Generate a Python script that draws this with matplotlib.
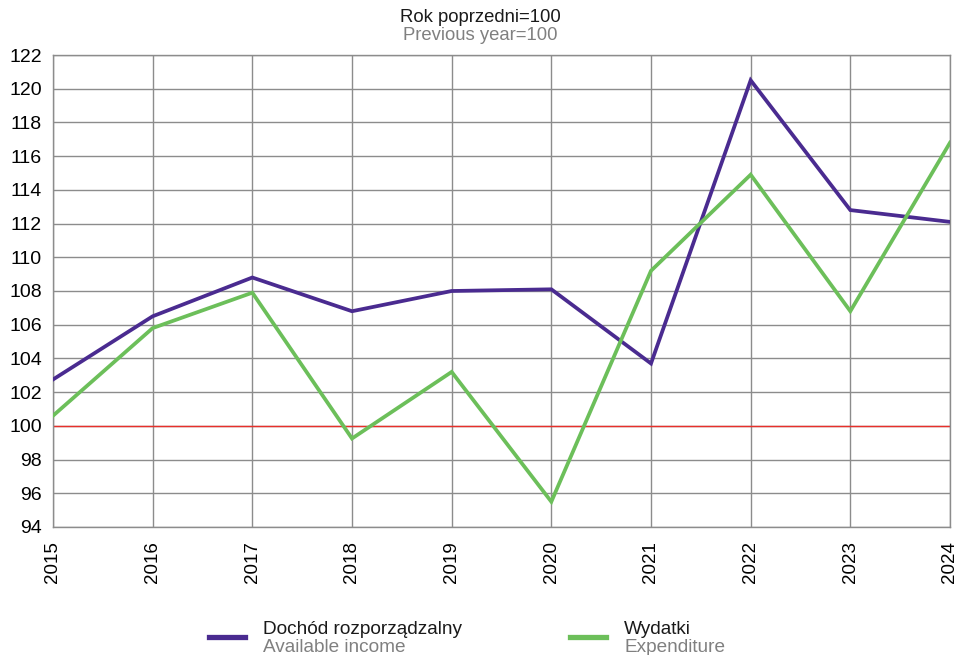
import matplotlib
matplotlib.use('Agg')
import matplotlib.pyplot as plt
from matplotlib.lines import Line2D

plt.rcParams['font.family'] = ['Liberation Sans', 'DejaVu Sans']

## data
years = [2015, 2016, 2017, 2018, 2019, 2020, 2021, 2022, 2023, 2024]
income = [102.75, 106.5, 108.8, 106.8, 108.0, 108.1, 103.7, 120.5, 112.8, 112.1]
expenditure = [100.6, 105.8, 107.9, 99.25, 103.2, 95.5, 109.2, 114.9, 106.8, 116.8]
y_ticks = list(range(94, 123, 2))

purple = '#4a2b90'
green = '#6cbf5a'
grid_col = '#8c8c8c'

fig = plt.figure(figsize=(9.61, 6.55), dpi=100)
ax = fig.add_axes([53 / 961, 1 - 527 / 655, 897 / 961, 472 / 655])

ax.plot(years, income, color=purple, lw=2.7, zorder=3, solid_joinstyle='miter')
ax.plot(years, expenditure, color=green, lw=2.7, zorder=3, solid_joinstyle='miter')
ax.axhline(100, color='#e8302a', lw=1.0, zorder=2)

ax.set_xlim(2015, 2024)
ax.set_ylim(94, 122)
ax.set_xticks(years)
ax.set_xticklabels([str(y) for y in years], rotation=90, fontsize=13.5)
ax.set_yticks(y_ticks)
ax.set_yticklabels([str(v) for v in y_ticks], fontsize=14)
ax.tick_params(axis='y', length=0, pad=8)
ax.tick_params(axis='x', length=0, pad=10)
ax.grid(True, color=grid_col, lw=1.0, zorder=1)
for s in ax.spines.values():
    s.set_color(grid_col)
    s.set_linewidth(1.0)

## title in two languages
fig.text(0.5, 1 - 18 / 655, 'Rok poprzedni=100', ha='center', va='center', fontsize=13.3, color='#1a1a1a')
fig.text(0.5, 1 - 36 / 655, 'Previous year=100', ha='center', va='center', fontsize=13.3, color='#808080')

## legend drawn by hand
for x0, col, pl, en in [(209, purple, 'Dochód rozporządzalny', 'Available income'),
                        (570, green, 'Wydatki', 'Expenditure')]:
    fig.add_artist(Line2D([x0 / 961, (x0 + 36) / 961], [1 - 637 / 655, 1 - 637 / 655],
                          color=col, lw=3.8, transform=fig.transFigure))
    fig.text((x0 + 54) / 961, 1 - 630 / 655, pl, ha='left', va='center', fontsize=13.7, color='#1a1a1a')
    fig.text((x0 + 54) / 961, 1 - 647 / 655, en, ha='left', va='center', fontsize=13.7, color='#808080')

fig.savefig('out.png', dpi=100)
